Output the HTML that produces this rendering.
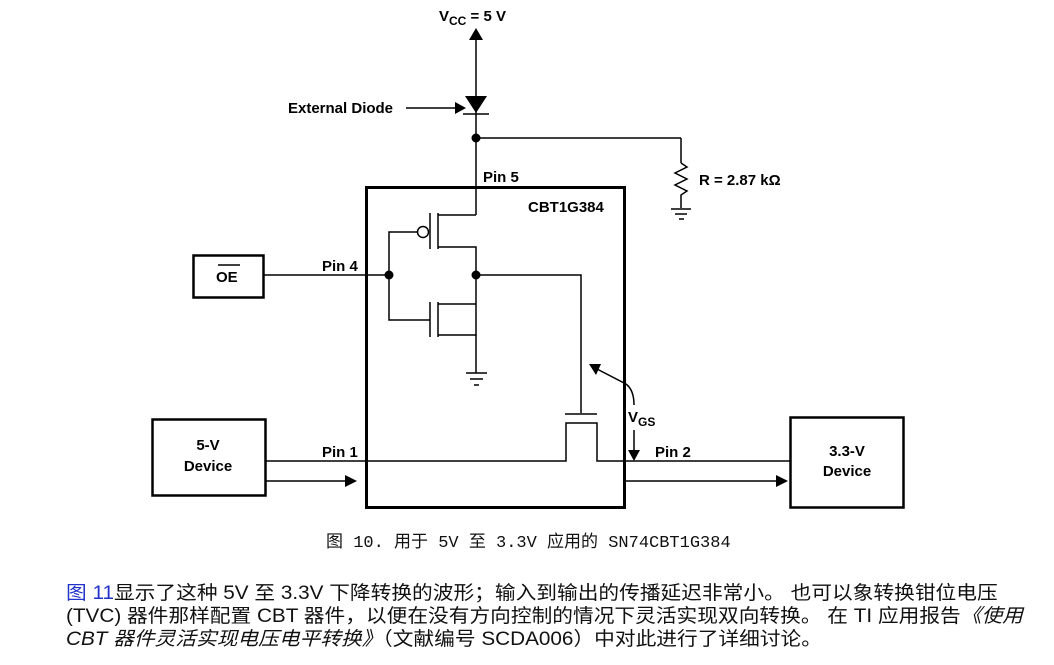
<!DOCTYPE html>
<html><head><meta charset="utf-8"><style>
body{margin:0;background:#fff;width:1054px;height:665px;overflow:hidden;position:relative;font-family:"Liberation Sans","Noto Sans CJK SC",sans-serif}
.t{position:absolute;font-size:19px;line-height:22px;color:#111;white-space:nowrap;font-family:"Liberation Sans","Noto Sans CJK SC",sans-serif;transform:scaleX(1.09);transform-origin:left}
</style></head><body>
<svg width="1054" height="665" style="position:absolute;left:0;top:0" font-family="Liberation Sans, Arial, sans-serif" font-weight="bold" font-size="15">
<g stroke="#000" fill="none" stroke-width="1.5">
<rect x="366.5" y="187.5" width="258" height="320" stroke-width="3"/>
<line x1="476" y1="38" x2="476" y2="215"/>
<line x1="476" y1="138" x2="681" y2="138"/>
<line x1="681" y1="138" x2="681" y2="163"/>
<polyline points="681,163 687,167 675,173 687,179 675,185 687,191 681,195 681,208"/>
<line x1="671" y1="209" x2="691" y2="209"/>
<line x1="675" y1="214" x2="687" y2="214"/>
<line x1="679" y1="219" x2="684" y2="219"/>
<line x1="463" y1="114" x2="489" y2="114"/>
<line x1="406" y1="108" x2="455" y2="108"/>
<line x1="430" y1="213" x2="430" y2="249"/>
<line x1="438" y1="213" x2="438" y2="249"/>
<polyline points="438,215 476,215"/>
<polyline points="438,247 476,247 476,335 438,335"/>
<circle cx="423" cy="232" r="5.5"/>
<polyline points="417,232 389,232 389,320 430,320"/>
<line x1="430" y1="302" x2="430" y2="337"/>
<line x1="438" y1="302" x2="438" y2="337"/>
<line x1="438" y1="304" x2="476" y2="304"/>
<line x1="476" y1="335" x2="476" y2="373"/>
<line x1="466" y1="373" x2="487" y2="373"/>
<line x1="470" y1="379" x2="483" y2="379"/>
<line x1="474" y1="385" x2="479" y2="385"/>
<line x1="264" y1="275" x2="389" y2="275"/>
<polyline points="476,275 581,275 581,413"/>
<line x1="565" y1="414" x2="597" y2="414"/>
<polyline points="265,461 566,461 566,423 597,423 597,461 790,461"/>
<line x1="265" y1="481" x2="345" y2="481"/>
<line x1="626" y1="481" x2="776" y2="481"/>
<path d="M597,369 L626,384 Q634,390 634,405"/>
<line x1="634" y1="430" x2="634" y2="450"/>
<rect x="193.5" y="255.5" width="70" height="42" stroke-width="2.5"/>
<rect x="152.5" y="419.5" width="113" height="76" stroke-width="2.5"/>
<rect x="790.5" y="417.5" width="113" height="90" stroke-width="2.5"/>
<line x1="218" y1="265" x2="240" y2="265"/>
</g>
<g fill="#000">
<polygon points="476,28 469,40 483,40"/>
<polygon points="465,96 487,96 476,113"/>
<polygon points="455,102 455,114 466,108"/>
<circle cx="476" cy="138" r="4.5"/>
<circle cx="389" cy="275" r="4.5"/>
<circle cx="476" cy="275" r="4.5"/>
<polygon points="357,481 345,475 345,487"/>
<polygon points="788,481 776,475 776,487"/>
<polygon points="589,364 601,364 596,375"/>
<polygon points="634,461 628,450 640,450"/>
<text x="439" y="21">V<tspan font-size="12" dy="4">CC</tspan><tspan dy="-4"> = 5 V</tspan></text>
<text x="288" y="113">External Diode</text>
<text x="699" y="185">R = 2.87 kΩ</text>
<text x="483" y="182">Pin 5</text>
<text x="528" y="212">CBT1G384</text>
<text x="322" y="271">Pin 4</text>
<text x="322" y="457">Pin 1</text>
<text x="655" y="457">Pin 2</text>
<text x="216" y="282">OE</text>
<text x="208" y="450" text-anchor="middle">5-V</text>
<text x="208" y="471" text-anchor="middle">Device</text>
<text x="847" y="456" text-anchor="middle">3.3-V</text>
<text x="847" y="476" text-anchor="middle">Device</text>
<text x="628" y="422">V<tspan font-size="12" dy="4">GS</tspan></text>
</g>
</svg>
<div class="t" style="left:326px;top:533px;font-size:17px;font-family:'Liberation Mono','Noto Sans CJK SC',monospace;transform:none">图 10. 用于 5V 至 3.3V 应用的 SN74CBT1G384</div>
<div class="t" style="left:66px;top:583px"><span style="color:#2233cc">图 11</span>显示了这种 5V 至 3.3V 下降转换的波形；输入到输出的传播延迟非常小。 也可以象转换钳位电压</div>
<div class="t" style="left:66px;top:606px">(TVC) 器件那样配置 CBT 器件，以便在没有方向控制的情况下灵活实现双向转换。 在 TI 应用报告<i>《使用</i></div>
<div class="t" style="left:66px;top:629px"><i>CBT 器件灵活实现电压电平转换》</i>（文献编号 SCDA006）中对此进行了详细讨论。</div>
</body></html>
